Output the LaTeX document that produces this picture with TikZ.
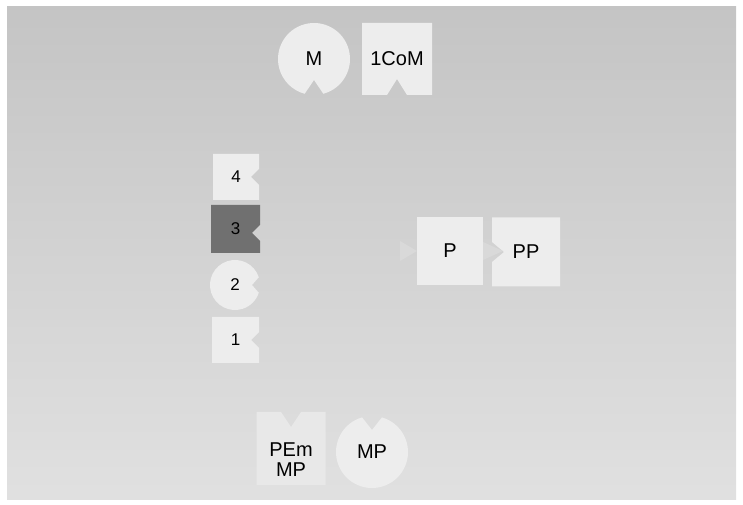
\documentclass[tikz,border=0pt]{standalone}
\usepackage{fontspec}
\setmainfont{Liberation Sans}
\usepackage{tikz}
\usetikzlibrary{calc,backgrounds}
\newcommand{\piececolor}{black!7}
\newcommand{\darkcolor}{black!56}
\newcommand{\tabcolor}{black!15}
\newcommand{\notch}{8}

\begin{document}
\begin{tikzpicture}[x=1pt,y=1pt,
  word/.style={font=\fontsize{20}{20}\selectfont, text=black, inner sep=0pt, align=center},
  digit/.style={font=\fontsize{17}{17}\selectfont, text=black, inner sep=0pt}]
\useasboundingbox (0,0) rectangle (743,505);
\node[word] (M) at (314,446) {M};
\node[word] (CoM) at (397,446) {1CoM};
\node[digit] (four) at (236,328) {4};
\node[digit] (three) at (235.5,276) {3};
\node[digit] (two) at (235,220) {2};
\node[digit] (one) at (235.5,165) {1};
\node[word] (P) at (450,254) {P};
\node[word] (PP) at (526,253) {PP};
\node[word] (PEm) at (291,45) {PEm\\MP};
\node[word] (MP) at (372,53) {MP};
%paper
\begin{scope}[on background layer]
\shade[top color=black!23, middle color=black!20, bottom color=black!12] (7,5) rectangle (736,498);
\end{scope}
%top
\begin{scope}[on background layer]
\fill[\piececolor] ($(M)+(-75:36)$) arc[start angle=-75, end angle=255, radius=36] -- ($(M)+(0,-21)$) -- cycle;
\fill[\piececolor] ($(CoM)+(-35,36)$) -- ($(CoM)+(35,36)$) -- ($(CoM)+(35,-36)$) -- ($(CoM)+(10,-36)$) -- ($(CoM)+(0,-20)$) -- ($(CoM)+(-10,-36)$) -- ($(CoM)+(-35,-36)$) -- cycle;
\end{scope}
%4321
\begin{scope}[on background layer]
\fill[\piececolor] ($(four)+(-23,23)$) -- ($(four)+(23,23)$) -- ($(four)+(23,\notch)$) -- ($(four)+(23-\notch,0)$) -- ($(four)+(23,-\notch)$) -- ($(four)+(23,-23)$) -- ($(four)+(-23,-23)$) -- cycle;
\fill[\darkcolor] ($(three)+(-24.5,24)$) -- ($(three)+(24.5,24)$) -- ($(three)+(24.5,-4+\notch)$) -- ($(three)+(24.5-\notch,-4)$) -- ($(three)+(24.5,-4-\notch)$) -- ($(three)+(24.5,-24)$) -- ($(three)+(-24.5,-24)$) -- cycle;
\fill[\piececolor] ($(two)+(18:25)$) arc[start angle=18, end angle=342, radius=25] -- ($(two)+(25-\notch,0)$) -- cycle;
\fill[\piececolor] ($(one)+(-23.5,23)$) -- ($(one)+(23.5,23)$) -- ($(one)+(23.5,\notch)$) -- ($(one)+(23.5-\notch,0)$) -- ($(one)+(23.5,-\notch)$) -- ($(one)+(23.5,-23)$) -- ($(one)+(-23.5,-23)$) -- cycle;
\end{scope}
%P PP
\begin{scope}[on background layer]
\fill[\tabcolor] ($(P)+(-50,10)$) -- ($(P)+(-33,0)$) -- ($(P)+(-50,-10)$) -- cycle;
\fill[\piececolor] ($(P)+(-33,-34)$) rectangle ($(P)+(33,34)$);
\fill[\piececolor] ($(PP)+(-34,34.5)$) -- ($(PP)+(34,34.5)$) -- ($(PP)+(34,-34.5)$) -- ($(PP)+(-34,-34.5)$) -- ($(PP)+(-34,-10)$) -- ($(PP)+(-22,0)$) -- ($(PP)+(-34,10)$) -- cycle;
\fill[\tabcolor] ($(P)+(33,9)$) -- ($(P)+(53,0)$) -- ($(P)+(33,-9)$) -- cycle;
\end{scope}
%bottom
\begin{scope}[on background layer]
\fill[black!9] ($(PEm)+(-34.5,-25)$) -- ($(PEm)+(34.5,-25)$) -- ($(PEm)+(34.5,48)$) -- ($(PEm)+(10,48)$) -- ($(PEm)+(0,33)$) -- ($(PEm)+(-10,48)$) -- ($(PEm)+(-34.5,48)$) -- cycle;
\fill[\piececolor] ($(MP)+(106:36)$) arc[start angle=106, end angle=434, radius=36] -- ($(MP)+(0,22)$) -- cycle;
\end{scope}
\end{tikzpicture}
\end{document}
